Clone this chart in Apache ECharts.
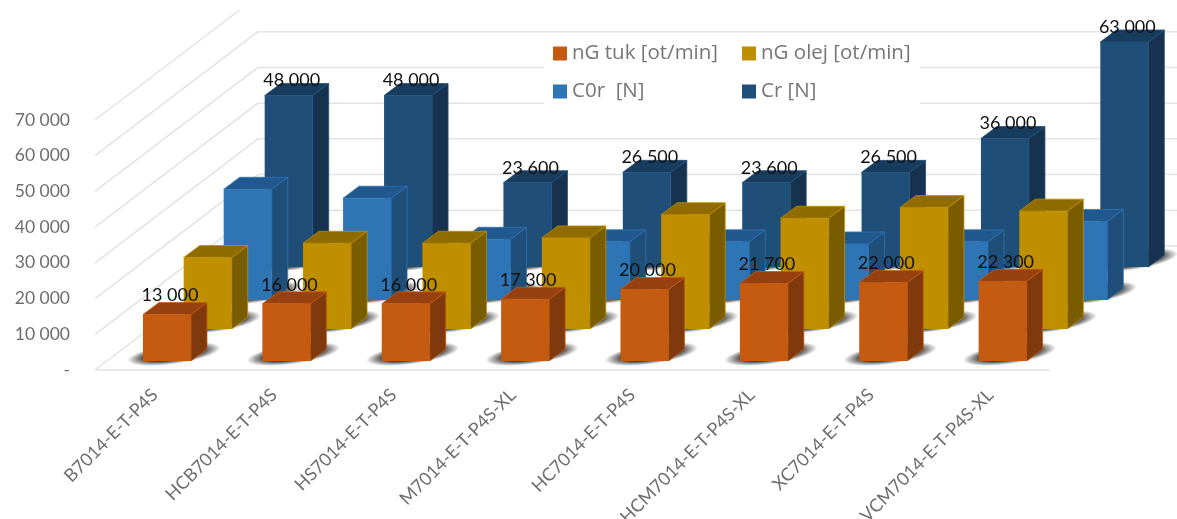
<!DOCTYPE html>
<html>
<head>
<meta charset="utf-8">
<script src="https://cdn.jsdelivr.net/npm/echarts@6/dist/echarts.min.js"></script>
<style>html,body{margin:0;padding:0;background:#fff}#chart{width:1177px;height:519px}</style>
</head>
<body>
<div id="chart"></div>
<script>
// Bearing models and their limiting speeds and load ratings
const categories = ['B7014-E-T-P4S','HCB7014-E-T-P4S','HS7014-E-T-P4S','M7014-E-T-P4S-XL','HC7014-E-T-P4S','HCM7014-E-T-P4S-XL','XC7014-E-T-P4S','VCM7014-E-T-P4S-XL'];
const nGTuk  = [13000,16000,16000,17300,20000,21700,22000,22300];
const nGOlej = [20000,24000,24000,25500,32000,31000,34000,33000];
const c0r    = [31000,28500,17000,16300,16300,15700,16300,22000];
const cr     = [48000,48000,23600,26500,23600,26500,36000,63000];
const yTicks = [0,10000,20000,30000,40000,50000,60000,70000];

// Oblique projection: each row sits further back by a fixed screen offset
const BAR_W = 48, BAR_DX = 16, BAR_DY = 12;
const WALL_DX = 163, WALL_DY = 124, TOP_LIMIT = 10;
const GRID_COLOR = '#e3e3e3';
const FONT = 'Lato';
const SHADOW_R = 10;

function fmt(v) { return v === 0 ? '-' : String(v).replace(/\B(?=(\d{3})+$)/g, ' '); }

function barSeries(name, values, row, face, labelled, labelLift) {
  return {
    type: 'custom', name, coordinateSystem: 'cartesian2d', clip: false, z: 2,
    itemStyle: { color: face.front },
    data: values.map((v, i) => [i, v]),
    renderItem(params, api) {
      const zero = api.coord([api.value(0), 0]);
      const top = api.coord([api.value(0), api.value(1)]);
      const x0 = zero[0] + row.dx - BAR_W / 2, x1 = x0 + BAR_W;
      const yb = zero[1] - row.dy, yt = top[1] - row.dy;
      const stroke = { stroke: face.front, lineWidth: 0.8 };
      // Soft contact shadow: a stretched, tilted disc that fades towards its rim
      const left = x0 - 16, right = x1 + BAR_DX + 14;
      const scx = (left + right) / 2, scy = yb - BAR_DY / 2 - 1;
      const kids = [
        { type: 'circle', shape: { cx: scx, cy: scy, r: SHADOW_R },
          scaleX: (right - left) / 2 / SHADOW_R, scaleY: 1, rotation: 0.14, originX: scx, originY: scy,
          style: { fill: { type: 'radial', x: 0.5, y: 0.5, r: 0.5, colorStops: [
            { offset: 0, color: 'rgba(25,25,25,0.95)' },
            { offset: 0.62, color: 'rgba(25,25,25,0.85)' },
            { offset: 1, color: 'rgba(25,25,25,0)' } ] } } },
        { type: 'polygon', shape: { points: [[x1, yb], [x1 + BAR_DX, yb - BAR_DY], [x1 + BAR_DX, yt - BAR_DY], [x1, yt]] },
          style: Object.assign({ fill: face.side }, stroke) },
        { type: 'polygon', shape: { points: [[x0, yt], [x1, yt], [x1 + BAR_DX, yt - BAR_DY], [x0 + BAR_DX, yt - BAR_DY]] },
          style: Object.assign({ fill: face.top }, stroke) },
        { type: 'rect', shape: { x: x0, y: yt, width: BAR_W, height: yb - yt },
          style: { fill: face.front } }
      ];
      if (labelled) {
        kids.push({ type: 'text', z2: 10, style: {
          text: fmt(api.value(1)), x: x0 + BAR_W / 2 + 3, y: yt - BAR_DY - labelLift,
          align: 'center', verticalAlign: 'bottom',
          fill: '#111', font: '18px ' + FONT } });
      }
      return { type: 'group', children: kids };
    }
  };
}

// Wall and floor rulings, one per value tick
const wallSeries = {
  type: 'custom', coordinateSystem: 'cartesian2d', clip: false, z: 1, silent: true,
  data: yTicks.map(v => [0, v]),
  renderItem(params, api) {
    const c = api.coord([0, api.value(1)]);
    const band = api.size([1, 0])[0];
    const x = c[0] - band / 2, y = c[1];
    const t = Math.min(1, (y - TOP_LIMIT) / WALL_DY);
    const line = { stroke: GRID_COLOR, lineWidth: 1.5, fill: null };
    const kids = [{ type: 'line', shape: { x1: x, y1: y, x2: x + WALL_DX * t, y2: y - WALL_DY * t }, style: line }];
    if (t === 1) {
      kids.push({ type: 'line', shape: { x1: x + WALL_DX, y1: y - WALL_DY, x2: 1177, y2: y - WALL_DY }, style: line });
    }
    if (api.value(1) === 0) {
      kids.push({ type: 'line', shape: { x1: x, y1: y, x2: x + band * categories.length, y2: y }, style: line });
    }
    return { type: 'group', children: kids };
  }
};

const legendText = { color: '#767676', fontFamily: 'Open Sans', fontSize: 20.5 };
const legendBase = { orient: 'vertical', selectedMode: false, icon: 'rect', itemWidth: 14, itemHeight: 14, itemGap: 17, padding: 0, textStyle: legendText, z: 5 };

const chart = echarts.init(document.getElementById('chart'), null, { renderer: 'canvas' });
chart.setOption({
  animation: false,
  backgroundColor: '#fff',
  grid: { left: 95, right: 127, top: 120, bottom: 149, outerBoundsMode: 'none' },
  xAxis: {
    type: 'category', data: categories,
    axisLine: { show: false }, axisTick: { show: false }, splitLine: { show: false },
    axisLabel: { interval: 0, rotate: 45, margin: 22, color: '#6e6e6e', fontFamily: FONT, fontSize: 18, hideOverlap: false }
  },
  yAxis: {
    type: 'value', min: 0, max: 70000, interval: 10000,
    axisLine: { show: false }, axisTick: { show: false }, splitLine: { show: false },
    axisLabel: { margin: 25, color: '#6e6e6e', fontFamily: FONT, fontSize: 17.5, formatter: fmt }
  },
  legend: [
    Object.assign({}, legendBase, { left: 553, top: 43, data: ['nG tuk [ot/min]', 'C0r  [N]'] }),
    Object.assign({}, legendBase, { left: 742, top: 43, data: ['nG olej [ot/min]', 'Cr [N]'] })
  ],
  graphic: [{ type: 'rect', z: 3, silent: true, shape: { x: 544, y: 40, width: 376, height: 76 }, style: { fill: '#fff' } }],
  series: [
    wallSeries,
    barSeries('Cr [N]', cr, { dx: 134, dy: 103 }, { front: '#1F4E79', top: '#183C5E', side: '#16324F' }, true, -6),
    barSeries('C0r  [N]', c0r, { dx: 93, dy: 70 }, { front: '#2E75B6', top: '#21598F', side: '#1F4E79' }, false, 0),
    barSeries('nG olej [ot/min]', nGOlej, { dx: 53, dy: 41 }, { front: '#BF8F00', top: '#8F6B00', side: '#7A5C00' }, false, 0),
    barSeries('nG tuk [ot/min]', nGTuk, { dx: 12.3, dy: 9 }, { front: '#C55A11', top: '#96410F', side: '#7F390C' }, true, -2)
  ]
});
</script>
</body>
</html>
